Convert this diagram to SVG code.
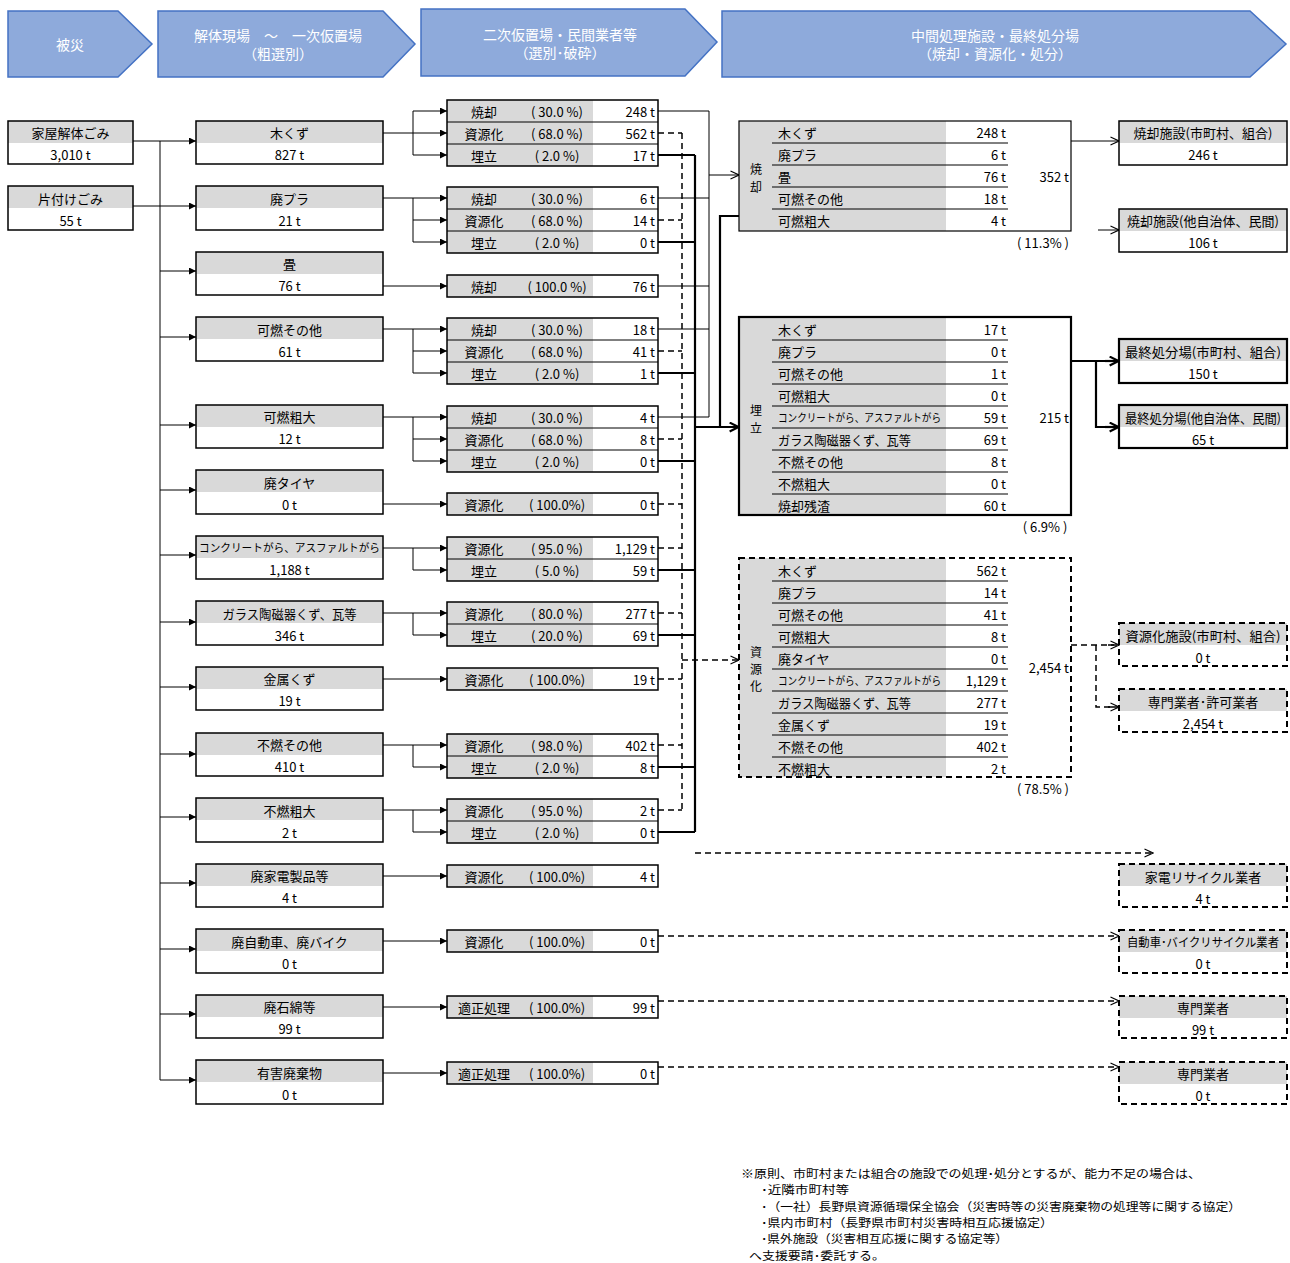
<svg xmlns="http://www.w3.org/2000/svg" width="1290" height="1263" viewBox="0 0 1290 1263">
<style>
text{font-family:"Noto Sans CJK JP","Noto Sans",sans-serif;font-size:13px;fill:#000;dominant-baseline:central}
.c{text-anchor:middle}
.r{text-anchor:end}
.hd{fill:#fff;font-size:14px}
.chev{fill:#8eaadb;stroke:#4472c4;stroke-width:1.5}
.g{fill:#d9d9d9}
.box{fill:none;stroke:#000;stroke-width:1.5}
.bth{fill:none;stroke:#000;stroke-width:2.2}
.bd{fill:none;stroke:#000;stroke-width:2;stroke-dasharray:6 4}
.sep{stroke:#000;stroke-width:1}
.ln{stroke:#000;stroke-width:1;fill:none}
.lt{stroke:#000;stroke-width:2.2;fill:none}
.ld{stroke:#000;stroke-width:1.5;fill:none;stroke-dasharray:6 4}
.sm{font-size:11px}
.vl{font-size:12px}
.fn{font-size:11.5px}
</style>
<defs>
<marker id="fa" viewBox="0 0 8 8" refX="8" refY="4" markerWidth="8" markerHeight="7" markerUnits="userSpaceOnUse" orient="auto"><path d="M0,0 L8,4 L0,8 z" fill="#000"/></marker>
<marker id="oa" viewBox="0 0 10 10" refX="9.5" refY="5" markerWidth="10" markerHeight="10" markerUnits="userSpaceOnUse" orient="auto"><path d="M1,1 L9.5,5 L1,9" fill="none" stroke="#000" stroke-width="1.1"/></marker>
<marker id="ot" viewBox="0 0 10 10" refX="9.5" refY="5" markerWidth="11" markerHeight="11" markerUnits="userSpaceOnUse" orient="auto"><path d="M1,1 L9,5 L1,9" fill="none" stroke="#000" stroke-width="2"/></marker>
</defs>
<rect width="1290" height="1263" fill="#fff"/>

<!-- header chevrons -->
<g id="hdr1"><polygon class="chev" points="8,11 118,11 152,44 118,77 8,77"/><text class="c hd" x="70" y="44">被災</text></g>
<g id="hdr2"><polygon class="chev" points="158,11 383,11 415,44 383,77 158,77"/><text class="c hd" x="278" y="35">解体現場　～　一次仮置場</text><text class="c hd" x="278" y="53">（粗選別）</text></g>
<g id="hdr3"><polygon class="chev" points="421,9 685,9 717,42 685,76 421,76"/><text class="c hd" x="560" y="34">二次仮置場・民間業者等</text><text class="c hd" x="560" y="52">（選別･破砕）</text></g>
<g id="hdr4"><polygon class="chev" points="722,11 1250,11 1286,44 1250,77 722,77"/><text class="c hd" x="995" y="35">中間処理施設・最終処分場</text><text class="c hd" x="995" y="53">（焼却・資源化・処分）</text></g>

<!-- connectors -->
<g id="connectors">
<line class="ln" x1="133" y1="141" x2="196" y2="141" marker-end="url(#fa)"/>
<line class="ln" x1="133" y1="206" x2="196" y2="206" marker-end="url(#fa)"/>
<line class="ln" x1="160" y1="141" x2="160" y2="1080"/>
<line class="ln" x1="160" y1="271" x2="196" y2="271" marker-end="url(#fa)"/>
<line class="ln" x1="160" y1="337" x2="196" y2="337" marker-end="url(#fa)"/>
<line class="ln" x1="160" y1="425" x2="196" y2="425" marker-end="url(#fa)"/>
<line class="ln" x1="160" y1="490" x2="196" y2="490" marker-end="url(#fa)"/>
<line class="ln" x1="160" y1="555" x2="196" y2="555" marker-end="url(#fa)"/>
<line class="ln" x1="160" y1="622" x2="196" y2="622" marker-end="url(#fa)"/>
<line class="ln" x1="160" y1="687" x2="196" y2="687" marker-end="url(#fa)"/>
<line class="ln" x1="160" y1="754" x2="196" y2="754" marker-end="url(#fa)"/>
<line class="ln" x1="160" y1="817" x2="196" y2="817" marker-end="url(#fa)"/>
<line class="ln" x1="160" y1="883" x2="196" y2="883" marker-end="url(#fa)"/>
<line class="ln" x1="160" y1="949" x2="196" y2="949" marker-end="url(#fa)"/>
<line class="ln" x1="160" y1="1014" x2="196" y2="1014" marker-end="url(#fa)"/>
<line class="ln" x1="160" y1="1080" x2="196" y2="1080" marker-end="url(#fa)"/>

<line class="ln" x1="383" y1="133" x2="447" y2="133" marker-end="url(#fa)"/>
<line class="ln" x1="413" y1="111" x2="413" y2="155"/>
<line class="ln" x1="413" y1="111" x2="447" y2="111" marker-end="url(#fa)"/>
<line class="ln" x1="413" y1="155" x2="447" y2="155" marker-end="url(#fa)"/>

<line class="ln" x1="383" y1="198" x2="447" y2="198" marker-end="url(#fa)"/>
<line class="ln" x1="413" y1="198" x2="413" y2="242"/>
<line class="ln" x1="413" y1="220" x2="447" y2="220" marker-end="url(#fa)"/>
<line class="ln" x1="413" y1="242" x2="447" y2="242" marker-end="url(#fa)"/>

<line class="ln" x1="383" y1="286" x2="447" y2="286" marker-end="url(#fa)"/>

<line class="ln" x1="383" y1="329" x2="447" y2="329" marker-end="url(#fa)"/>
<line class="ln" x1="413" y1="329" x2="413" y2="373"/>
<line class="ln" x1="413" y1="351" x2="447" y2="351" marker-end="url(#fa)"/>
<line class="ln" x1="413" y1="373" x2="447" y2="373" marker-end="url(#fa)"/>

<line class="ln" x1="383" y1="417" x2="447" y2="417" marker-end="url(#fa)"/>
<line class="ln" x1="413" y1="417" x2="413" y2="461"/>
<line class="ln" x1="413" y1="439" x2="447" y2="439" marker-end="url(#fa)"/>
<line class="ln" x1="413" y1="461" x2="447" y2="461" marker-end="url(#fa)"/>

<line class="ln" x1="383" y1="504" x2="447" y2="504" marker-end="url(#fa)"/>

<line class="ln" x1="383" y1="548" x2="447" y2="548" marker-end="url(#fa)"/>
<line class="ln" x1="413" y1="548" x2="413" y2="570"/>
<line class="ln" x1="413" y1="570" x2="447" y2="570" marker-end="url(#fa)"/>

<line class="ln" x1="383" y1="613" x2="447" y2="613" marker-end="url(#fa)"/>
<line class="ln" x1="413" y1="613" x2="413" y2="635"/>
<line class="ln" x1="413" y1="635" x2="447" y2="635" marker-end="url(#fa)"/>

<line class="ln" x1="383" y1="679" x2="447" y2="679" marker-end="url(#fa)"/>

<line class="ln" x1="383" y1="745" x2="447" y2="745" marker-end="url(#fa)"/>
<line class="ln" x1="413" y1="745" x2="413" y2="767"/>
<line class="ln" x1="413" y1="767" x2="447" y2="767" marker-end="url(#fa)"/>

<line class="ln" x1="383" y1="810" x2="447" y2="810" marker-end="url(#fa)"/>
<line class="ln" x1="413" y1="810" x2="413" y2="832"/>
<line class="ln" x1="413" y1="832" x2="447" y2="832" marker-end="url(#fa)"/>

<line class="ln" x1="383" y1="876" x2="447" y2="876" marker-end="url(#fa)"/>
<line class="ln" x1="383" y1="941" x2="447" y2="941" marker-end="url(#fa)"/>
<line class="ln" x1="383" y1="1007" x2="447" y2="1007" marker-end="url(#fa)"/>
<line class="ln" x1="383" y1="1073" x2="447" y2="1073" marker-end="url(#fa)"/>

<path class="ln" d="M658,111H709M658,198H709M658,286H709M658,329H709M658,417H709M709,111V417"/>
<line class="ln" x1="709" y1="175" x2="739" y2="175" marker-end="url(#oa)"/>
<path class="ld" d="M658,133H682M658,220H682M658,351H682M658,439H682M658,504H682M658,548H682M658,613H682M658,679H682M658,745H682M658,810H682M682,133V810"/>
<line class="ld" x1="682" y1="660" x2="739" y2="660" marker-end="url(#oa)"/>
<path class="lt" d="M658,155H695M658,242H695M658,373H695M658,461H695M658,570H695M658,635H695M658,767H695M658,832H695M695,155V832"/>
<line class="lt" x1="695" y1="427" x2="739" y2="427" marker-end="url(#ot)"/>
<path class="lt" d="M739,216H720V427"/>

<line class="ln" x1="1071" y1="141" x2="1119" y2="141" marker-end="url(#oa)"/>
<line class="ln" x1="1098" y1="230" x2="1119" y2="230" marker-end="url(#oa)"/>
<path class="lt" d="M1071,361H1119M1096,361V427H1119"/>
<line class="lt" x1="1105" y1="361" x2="1119" y2="361" marker-end="url(#ot)"/>
<line class="lt" x1="1105" y1="427" x2="1119" y2="427" marker-end="url(#ot)"/>
<path class="ld" d="M1071,645H1119M1096,645V707H1119"/>
<line class="ld" x1="1108" y1="645" x2="1119" y2="645" marker-end="url(#oa)"/>
<line class="ld" x1="1108" y1="707" x2="1119" y2="707" marker-end="url(#oa)"/>

<line class="ld" x1="695" y1="853" x2="1153" y2="853" marker-end="url(#oa)"/>
<line class="ld" x1="658" y1="936" x2="1119" y2="936" marker-end="url(#oa)"/>
<line class="ld" x1="658" y1="1001" x2="1119" y2="1001" marker-end="url(#oa)"/>
<line class="ld" x1="658" y1="1067" x2="1119" y2="1067" marker-end="url(#oa)"/>
</g>

<!-- source boxes -->
<g id="src-kaoku"><rect class="g" x="8" y="121" width="125" height="22"/><rect class="box" x="8" y="121" width="125" height="43"/><text class="c" x="70.5" y="132">家屋解体ごみ</text><text class="c" x="70.5" y="154">3,010 t</text></g>
<g id="src-katazuke"><rect class="g" x="8" y="186" width="125" height="22"/><rect class="box" x="8" y="186" width="125" height="44"/><text class="c" x="70.5" y="198">片付けごみ</text><text class="c" x="70.5" y="220">55 t</text></g>

<!-- category boxes -->
<g id="cat-mokuzu"><rect class="g" x="196" y="121" width="187" height="22"/><rect class="box" x="196" y="121" width="187" height="43"/><text class="c" x="289.5" y="132">木くず</text><text class="c" x="289.5" y="154">827 t</text></g>
<g id="cat-haipura"><rect class="g" x="196" y="186" width="187" height="22"/><rect class="box" x="196" y="186" width="187" height="44"/><text class="c" x="289.5" y="198">廃プラ</text><text class="c" x="289.5" y="220">21 t</text></g>
<g id="cat-tatami"><rect class="g" x="196" y="252" width="187" height="22"/><rect class="box" x="196" y="252" width="187" height="43"/><text class="c" x="289.5" y="263">畳</text><text class="c" x="289.5" y="285">76 t</text></g>
<g id="cat-kanen-other"><rect class="g" x="196" y="317" width="187" height="22"/><rect class="box" x="196" y="317" width="187" height="44"/><text class="c" x="289.5" y="329">可燃その他</text><text class="c" x="289.5" y="351">61 t</text></g>
<g id="cat-kanen-sodai"><rect class="g" x="196" y="405" width="187" height="22"/><rect class="box" x="196" y="405" width="187" height="43"/><text class="c" x="289.5" y="416">可燃粗大</text><text class="c" x="289.5" y="438">12 t</text></g>
<g id="cat-tire"><rect class="g" x="196" y="470" width="187" height="22"/><rect class="box" x="196" y="470" width="187" height="44"/><text class="c" x="289.5" y="482">廃タイヤ</text><text class="c" x="289.5" y="504">0 t</text></g>
<g id="cat-concrete"><rect class="g" x="196" y="536" width="187" height="22"/><rect class="box" x="196" y="536" width="187" height="43"/><text class="c sm" x="289.5" y="547" textLength="181" lengthAdjust="spacingAndGlyphs">コンクリートがら、アスファルトがら</text><text class="c" x="289.5" y="569">1,188 t</text></g>
<g id="cat-glass"><rect class="g" x="196" y="601" width="187" height="22"/><rect class="box" x="196" y="601" width="187" height="44"/><text class="c" x="289.5" y="613" textLength="134" lengthAdjust="spacingAndGlyphs">ガラス陶磁器くず、瓦等</text><text class="c" x="289.5" y="635">346 t</text></g>
<g id="cat-metal"><rect class="g" x="196" y="667" width="187" height="22"/><rect class="box" x="196" y="667" width="187" height="43"/><text class="c" x="289.5" y="678">金属くず</text><text class="c" x="289.5" y="700">19 t</text></g>
<g id="cat-funen-other"><rect class="g" x="196" y="733" width="187" height="22"/><rect class="box" x="196" y="733" width="187" height="43"/><text class="c" x="289.5" y="744">不燃その他</text><text class="c" x="289.5" y="766">410 t</text></g>
<g id="cat-funen-sodai"><rect class="g" x="196" y="798" width="187" height="22"/><rect class="box" x="196" y="798" width="187" height="44"/><text class="c" x="289.5" y="810">不燃粗大</text><text class="c" x="289.5" y="832">2 t</text></g>
<g id="cat-kaden"><rect class="g" x="196" y="864" width="187" height="22"/><rect class="box" x="196" y="864" width="187" height="43"/><text class="c" x="289.5" y="875">廃家電製品等</text><text class="c" x="289.5" y="897">4 t</text></g>
<g id="cat-car"><rect class="g" x="196" y="929" width="187" height="22"/><rect class="box" x="196" y="929" width="187" height="44"/><text class="c" x="289.5" y="941">廃自動車、廃バイク</text><text class="c" x="289.5" y="963">0 t</text></g>
<g id="cat-asbestos"><rect class="g" x="196" y="995" width="187" height="22"/><rect class="box" x="196" y="995" width="187" height="43"/><text class="c" x="289.5" y="1006">廃石綿等</text><text class="c" x="289.5" y="1028">99 t</text></g>
<g id="cat-hazard"><rect class="g" x="196" y="1060" width="187" height="22"/><rect class="box" x="196" y="1060" width="187" height="44"/><text class="c" x="289.5" y="1072">有害廃棄物</text><text class="c" x="289.5" y="1094">0 t</text></g>

<!-- process boxes -->
<g id="proc-mokuzu"><rect class="g" x="447" y="100" width="146" height="66"/><rect class="box" x="447" y="100" width="211" height="66"/><path class="sep" d="M447,122H658M447,144H658"/>
<text class="c" x="484" y="111">焼却</text><text class="c" x="557" y="111">( 30.0 %)</text><text class="r" x="655" y="111">248 t</text>
<text class="c" x="484" y="133">資源化</text><text class="c" x="557" y="133">( 68.0 %)</text><text class="r" x="655" y="133">562 t</text>
<text class="c" x="484" y="155">埋立</text><text class="c" x="557" y="155">( 2.0 %)</text><text class="r" x="655" y="155">17 t</text></g>
<g id="proc-haipura"><rect class="g" x="447" y="187" width="146" height="66"/><rect class="box" x="447" y="187" width="211" height="66"/><path class="sep" d="M447,209H658M447,231H658"/>
<text class="c" x="484" y="198">焼却</text><text class="c" x="557" y="198">( 30.0 %)</text><text class="r" x="655" y="198">6 t</text>
<text class="c" x="484" y="220">資源化</text><text class="c" x="557" y="220">( 68.0 %)</text><text class="r" x="655" y="220">14 t</text>
<text class="c" x="484" y="242">埋立</text><text class="c" x="557" y="242">( 2.0 %)</text><text class="r" x="655" y="242">0 t</text></g>
<g id="proc-tatami"><rect class="g" x="447" y="275" width="146" height="22"/><rect class="box" x="447" y="275" width="211" height="22"/>
<text class="c" x="484" y="286">焼却</text><text class="c" x="557" y="286">( 100.0 %)</text><text class="r" x="655" y="286">76 t</text></g>
<g id="proc-kanen-other"><rect class="g" x="447" y="318" width="146" height="66"/><rect class="box" x="447" y="318" width="211" height="66"/><path class="sep" d="M447,340H658M447,362H658"/>
<text class="c" x="484" y="329">焼却</text><text class="c" x="557" y="329">( 30.0 %)</text><text class="r" x="655" y="329">18 t</text>
<text class="c" x="484" y="351">資源化</text><text class="c" x="557" y="351">( 68.0 %)</text><text class="r" x="655" y="351">41 t</text>
<text class="c" x="484" y="373">埋立</text><text class="c" x="557" y="373">( 2.0 %)</text><text class="r" x="655" y="373">1 t</text></g>
<g id="proc-kanen-sodai"><rect class="g" x="447" y="406" width="146" height="66"/><rect class="box" x="447" y="406" width="211" height="66"/><path class="sep" d="M447,428H658M447,450H658"/>
<text class="c" x="484" y="417">焼却</text><text class="c" x="557" y="417">( 30.0 %)</text><text class="r" x="655" y="417">4 t</text>
<text class="c" x="484" y="439">資源化</text><text class="c" x="557" y="439">( 68.0 %)</text><text class="r" x="655" y="439">8 t</text>
<text class="c" x="484" y="461">埋立</text><text class="c" x="557" y="461">( 2.0 %)</text><text class="r" x="655" y="461">0 t</text></g>
<g id="proc-tire"><rect class="g" x="447" y="493" width="146" height="22"/><rect class="box" x="447" y="493" width="211" height="22"/>
<text class="c" x="484" y="504">資源化</text><text class="c" x="557" y="504">( 100.0%)</text><text class="r" x="655" y="504">0 t</text></g>
<g id="proc-concrete"><rect class="g" x="447" y="537" width="146" height="44"/><rect class="box" x="447" y="537" width="211" height="44"/><path class="sep" d="M447,559H658"/>
<text class="c" x="484" y="548">資源化</text><text class="c" x="557" y="548">( 95.0 %)</text><text class="r" x="655" y="548">1,129 t</text>
<text class="c" x="484" y="570">埋立</text><text class="c" x="557" y="570">( 5.0 %)</text><text class="r" x="655" y="570">59 t</text></g>
<g id="proc-glass"><rect class="g" x="447" y="602" width="146" height="44"/><rect class="box" x="447" y="602" width="211" height="44"/><path class="sep" d="M447,624H658"/>
<text class="c" x="484" y="613">資源化</text><text class="c" x="557" y="613">( 80.0 %)</text><text class="r" x="655" y="613">277 t</text>
<text class="c" x="484" y="635">埋立</text><text class="c" x="557" y="635">( 20.0 %)</text><text class="r" x="655" y="635">69 t</text></g>
<g id="proc-metal"><rect class="g" x="447" y="668" width="146" height="22"/><rect class="box" x="447" y="668" width="211" height="22"/>
<text class="c" x="484" y="679">資源化</text><text class="c" x="557" y="679">( 100.0%)</text><text class="r" x="655" y="679">19 t</text></g>
<g id="proc-funen-other"><rect class="g" x="447" y="734" width="146" height="44"/><rect class="box" x="447" y="734" width="211" height="44"/><path class="sep" d="M447,756H658"/>
<text class="c" x="484" y="745">資源化</text><text class="c" x="557" y="745">( 98.0 %)</text><text class="r" x="655" y="745">402 t</text>
<text class="c" x="484" y="767">埋立</text><text class="c" x="557" y="767">( 2.0 %)</text><text class="r" x="655" y="767">8 t</text></g>
<g id="proc-funen-sodai"><rect class="g" x="447" y="799" width="146" height="44"/><rect class="box" x="447" y="799" width="211" height="44"/><path class="sep" d="M447,821H658"/>
<text class="c" x="484" y="810">資源化</text><text class="c" x="557" y="810">( 95.0 %)</text><text class="r" x="655" y="810">2 t</text>
<text class="c" x="484" y="832">埋立</text><text class="c" x="557" y="832">( 2.0 %)</text><text class="r" x="655" y="832">0 t</text></g>
<g id="proc-kaden"><rect class="g" x="447" y="865" width="146" height="22"/><rect class="box" x="447" y="865" width="211" height="22"/>
<text class="c" x="484" y="876">資源化</text><text class="c" x="557" y="876">( 100.0%)</text><text class="r" x="655" y="876">4 t</text></g>
<g id="proc-car"><rect class="g" x="447" y="930" width="146" height="22"/><rect class="box" x="447" y="930" width="211" height="22"/>
<text class="c" x="484" y="941">資源化</text><text class="c" x="557" y="941">( 100.0%)</text><text class="r" x="655" y="941">0 t</text></g>
<g id="proc-asbestos"><rect class="g" x="447" y="996" width="146" height="22"/><rect class="box" x="447" y="996" width="211" height="22"/>
<text class="c" x="484" y="1007">適正処理</text><text class="c" x="557" y="1007">( 100.0%)</text><text class="r" x="655" y="1007">99 t</text></g>
<g id="proc-hazard"><rect class="g" x="447" y="1062" width="146" height="22"/><rect class="box" x="447" y="1062" width="211" height="22"/>
<text class="c" x="484" y="1073">適正処理</text><text class="c" x="557" y="1073">( 100.0%)</text><text class="r" x="655" y="1073">0 t</text></g>

<!-- intermediate: incineration -->
<g id="mid-incineration"><rect class="g" x="739" y="121" width="207" height="110"/><rect x="739" y="121" width="332" height="110" fill="none" stroke="#000" stroke-width="1.2"/>
<text class="c vl" x="756" y="168">焼</text><text class="c vl" x="756" y="186">却</text>
<path class="sep" d="M772,143H1008M772,165H1008M772,187H1008M772,209H1008"/>
<text x="778" y="132">木くず</text><text class="r" x="1006" y="132">248 t</text>
<text x="778" y="154">廃プラ</text><text class="r" x="1006" y="154">6 t</text>
<text x="778" y="176">畳</text><text class="r" x="1006" y="176">76 t</text>
<text x="778" y="198">可燃その他</text><text class="r" x="1006" y="198">18 t</text>
<text x="778" y="220">可燃粗大</text><text class="r" x="1006" y="220">4 t</text>
<text class="r" x="1069" y="176">352 t</text>
<text class="c" x="1043" y="242">( 11.3% )</text></g>

<!-- intermediate: landfill -->
<g id="mid-landfill"><rect class="g" x="739" y="317" width="207" height="198"/><rect class="bth" x="739" y="317" width="332" height="198"/>
<text class="c vl" x="756" y="409">埋</text><text class="c vl" x="756" y="427">立</text>
<path class="sep" d="M772,340H1008M772,362H1008M772,384H1008M772,406H1008M772,428H1008M772,450H1008M772,472H1008M772,494H1008"/>
<text x="778" y="329">木くず</text><text class="r" x="1006" y="329">17 t</text>
<text x="778" y="351">廃プラ</text><text class="r" x="1006" y="351">0 t</text>
<text x="778" y="373">可燃その他</text><text class="r" x="1006" y="373">1 t</text>
<text x="778" y="395">可燃粗大</text><text class="r" x="1006" y="395">0 t</text>
<text x="778" y="417" class="sm" textLength="163" lengthAdjust="spacingAndGlyphs">コンクリートがら、アスファルトがら</text><text class="r" x="1006" y="417">59 t</text>
<text x="778" y="439" textLength="133" lengthAdjust="spacingAndGlyphs">ガラス陶磁器くず、瓦等</text><text class="r" x="1006" y="439">69 t</text>
<text x="778" y="461">不燃その他</text><text class="r" x="1006" y="461">8 t</text>
<text x="778" y="483">不燃粗大</text><text class="r" x="1006" y="483">0 t</text>
<text x="778" y="505">焼却残渣</text><text class="r" x="1006" y="505">60 t</text>
<text class="r" x="1069" y="417">215 t</text>
<text class="c" x="1045" y="526">( 6.9% )</text></g>

<!-- intermediate: recycling -->
<g id="mid-recycle"><rect class="g" x="739" y="558" width="207" height="219"/><rect class="bd" x="739" y="558" width="332" height="219"/>
<text class="c vl" x="756" y="651">資</text><text class="c vl" x="756" y="668">源</text><text class="c vl" x="756" y="685">化</text>
<path class="sep" d="M772,581H1008M772,603H1008M772,625H1008M772,647H1008M772,669H1008M772,691H1008M772,713H1008M772,735H1008M772,757H1008"/>
<text x="778" y="570">木くず</text><text class="r" x="1006" y="570">562 t</text>
<text x="778" y="592">廃プラ</text><text class="r" x="1006" y="592">14 t</text>
<text x="778" y="614">可燃その他</text><text class="r" x="1006" y="614">41 t</text>
<text x="778" y="636">可燃粗大</text><text class="r" x="1006" y="636">8 t</text>
<text x="778" y="658">廃タイヤ</text><text class="r" x="1006" y="658">0 t</text>
<text x="778" y="680" class="sm" textLength="163" lengthAdjust="spacingAndGlyphs">コンクリートがら、アスファルトがら</text><text class="r" x="1006" y="680">1,129 t</text>
<text x="778" y="702" textLength="133" lengthAdjust="spacingAndGlyphs">ガラス陶磁器くず、瓦等</text><text class="r" x="1006" y="702">277 t</text>
<text x="778" y="724">金属くず</text><text class="r" x="1006" y="724">19 t</text>
<text x="778" y="746">不燃その他</text><text class="r" x="1006" y="746">402 t</text>
<text x="778" y="768">不燃粗大</text><text class="r" x="1006" y="768">2 t</text>
<text class="r" x="1069" y="667">2,454 t</text>
<text class="c" x="1043" y="788">( 78.5% )</text></g>

<!-- destinations -->
<g id="dst-inc-city"><rect class="g" x="1119" y="121" width="168" height="22"/><rect class="box" x="1119" y="121" width="168" height="44"/><text class="c" x="1203" y="132">焼却施設(市町村、組合)</text><text class="c" x="1203" y="154">246 t</text></g>
<g id="dst-inc-other"><rect class="g" x="1119" y="209" width="168" height="22"/><rect class="box" x="1119" y="209" width="168" height="43"/><text class="c" x="1203" y="220">焼却施設(他自治体、民間)</text><text class="c" x="1203" y="242">106 t</text></g>
<g id="dst-land-city"><rect class="g" x="1119" y="339" width="168" height="22"/><rect class="bth" x="1119" y="339" width="168" height="44"/><text class="c" x="1203" y="351" textLength="156" lengthAdjust="spacingAndGlyphs">最終処分場(市町村、組合)</text><text class="c" x="1203" y="373">150 t</text></g>
<g id="dst-land-other"><rect class="g" x="1119" y="405" width="168" height="22"/><rect class="bth" x="1119" y="405" width="168" height="43"/><text class="c" x="1203" y="417" textLength="156" lengthAdjust="spacingAndGlyphs">最終処分場(他自治体、民間)</text><text class="c" x="1203" y="439">65 t</text></g>
<g id="dst-rec-city"><rect class="g" x="1119" y="623" width="168" height="22"/><rect class="bd" x="1119" y="623" width="168" height="43"/><text class="c" x="1203" y="635" textLength="155" lengthAdjust="spacingAndGlyphs">資源化施設(市町村、組合)</text><text class="c" x="1203" y="657">0 t</text></g>
<g id="dst-rec-pro"><rect class="g" x="1119" y="689" width="168" height="22"/><rect class="bd" x="1119" y="689" width="168" height="43"/><text class="c" x="1203" y="701">専門業者･許可業者</text><text class="c" x="1203" y="723">2,454 t</text></g>
<g id="dst-kaden"><rect class="g" x="1119" y="864" width="168" height="22"/><rect class="bd" x="1119" y="864" width="168" height="43"/><text class="c" x="1203" y="876">家電リサイクル業者</text><text class="c" x="1203" y="898">4 t</text></g>
<g id="dst-car"><rect class="g" x="1119" y="930" width="168" height="22"/><rect class="bd" x="1119" y="930" width="168" height="43"/><text class="c" x="1203" y="941" style="font-size:12px" textLength="152" lengthAdjust="spacingAndGlyphs">自動車･バイクリサイクル業者</text><text class="c" x="1203" y="963">0 t</text></g>
<g id="dst-asbestos"><rect class="g" x="1119" y="996" width="168" height="22"/><rect class="bd" x="1119" y="996" width="168" height="42"/><text class="c" x="1203" y="1007">専門業者</text><text class="c" x="1203" y="1029">99 t</text></g>
<g id="dst-hazard"><rect class="g" x="1119" y="1062" width="168" height="22"/><rect class="bd" x="1119" y="1062" width="168" height="42"/><text class="c" x="1203" y="1073">専門業者</text><text class="c" x="1203" y="1095">0 t</text></g>

<!-- footnote -->
<g id="footnote">
<text class="fn" x="741" y="1173" textLength="460" lengthAdjust="spacingAndGlyphs">※原則、市町村または組合の施設での処理･処分とするが、能力不足の場合は、</text>
<text class="fn" x="761" y="1189" textLength="88" lengthAdjust="spacingAndGlyphs">･近隣市町村等</text>
<text class="fn" x="761" y="1206" textLength="480" lengthAdjust="spacingAndGlyphs">･（一社）長野県資源循環保全協会（災害時等の災害廃棄物の処理等に関する協定）</text>
<text class="fn" x="761" y="1222" textLength="292" lengthAdjust="spacingAndGlyphs">･県内市町村（長野県市町村災害時相互応援協定）</text>
<text class="fn" x="761" y="1238" textLength="247" lengthAdjust="spacingAndGlyphs">･県外施設（災害相互応援に関する協定等）</text>
<text class="fn" x="749" y="1255" textLength="136" lengthAdjust="spacingAndGlyphs">へ支援要請･委託する。</text>
</g>
</svg>
